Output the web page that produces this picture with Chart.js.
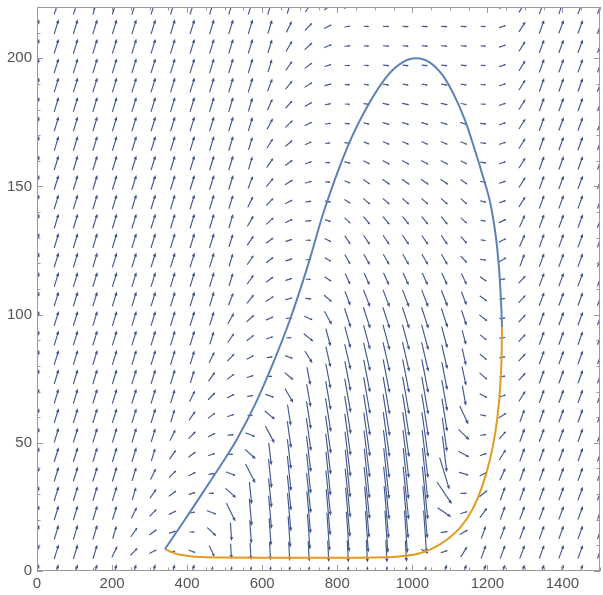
<!DOCTYPE html>
<html><head><meta charset="utf-8">
<script src="https://cdn.jsdelivr.net/npm/chart.js@4/dist/chart.umd.min.js"></script>
<style>html,body{margin:0;padding:0;background:#fff;overflow:hidden}#wrap{width:603px;height:595px;position:relative}</style>
</head><body><div id="wrap"><canvas id="c" width="603" height="595"></canvas></div>
<script>
// ---- axis ticks ----
const xTickValues = [0, 200, 400, 600, 800, 1000, 1200, 1400];
const yTickValues = [0, 50, 100, 150, 200];

// ---- vector field sample points ----
const fieldX = [0,52,103,155,207,259,310,362,414,466,517,569,621,672,724,776,828,879,931,983,1034,1086,1138,1190,1241,1293,1345,1397,1448,1500];
// rows listed from top (y = 220) down to bottom (y = 0)
const fieldY = [220,212.4,204.8,197.2,189.7,182.1,174.5,166.9,159.3,151.7,144.1,136.6,129,121.4,113.8,106.2,98.6,91,83.4,75.9,68.3,60.7,53.1,45.5,37.9,30.3,22.8,15.2,7.6,0];

// direction of each field arrow as it appears (degrees, 0 = right, 90 = up)
const fieldAngle = [
[73,73,73,73,73,73,73,73,73,73,73,73,73,73,55,37,18,0,-1,-2,-2,-2,-2,-1,19,58,70,70,70,70],
[73,73,73,73,73,73,73,73,73,73,73,73,73,64,46,27,9,-1,-2,-3,-3,-3,-3,-1,19,58,70,70,70,70],
[73,73,73,73,73,73,73,73,73,73,73,73,73,60,42,24,5,-2,-4,-5,-5,-5,-5,-2,19,58,70,70,70,70],
[73,73,73,73,73,73,73,73,73,73,73,73,73,55,37,18,0,-4,-7,-7,-7,-7,-7,-2,19,58,70,70,70,70],
[73,73,73,73,73,73,73,73,73,73,73,73,69,51,33,15,-1,-6,-10,-10,-10,-10,-10,-3,19,58,70,70,70,70],
[73,73,73,73,73,73,73,73,73,73,73,73,66,47,29,11,-3,-9,-13,-13,-13,-13,-13,-4,19,58,70,70,70,70],
[73,73,73,73,73,73,73,73,73,73,73,73,62,44,26,7,-5,-14,-17,-17,-17,-17,-17,-6,19,58,70,70,70,70],
[73,73,73,73,73,73,73,73,73,73,73,73,58,40,22,4,-9,-20,-22,-22,-22,-22,-22,-7,19,58,70,70,70,70],
[73,73,73,73,73,73,73,73,73,73,73,73,55,37,18,0,-14,-28,-28,-28,-28,-28,-28,-9,19,58,70,70,70,70],
[73,73,73,73,73,73,73,73,73,73,73,69,51,33,15,-4,-21,-35,-35,-35,-35,-35,-35,-12,19,58,70,70,70,70],
[73,73,73,73,73,73,73,73,73,73,73,64,46,27,9,-10,-32,-42,-42,-42,-42,-42,-42,-14,19,58,70,70,70,70],
[73,73,73,73,73,73,73,73,73,73,73,60,42,24,5,-18,-43,-50,-50,-50,-50,-50,-43,-10,27,66,70,70,70,70],
[73,73,73,73,73,73,73,73,73,73,73,55,37,18,0,-28,-56,-56,-56,-56,-56,-56,-49,-11,27,66,70,70,70,70],
[73,73,73,73,73,73,73,73,73,73,73,55,37,18,0,-30,-60,-60,-60,-60,-60,-60,-48,-8,31,70,70,70,70,70],
[73,73,73,73,73,73,73,73,73,73,73,55,37,18,0,-33,-65,-65,-65,-65,-65,-65,-65,-35,8,47,70,70,70,70],
[73,73,73,73,73,73,73,73,73,73,69,51,33,15,-7,-41,-69,-69,-69,-69,-69,-69,-69,-37,8,47,70,70,70,70],
[73,73,73,73,73,73,73,73,73,73,60,42,24,5,-25,-61,-72,-72,-72,-72,-72,-72,-72,-38,8,47,70,70,70,70],
[73,73,73,73,73,73,73,73,73,73,55,37,18,0,-38,-75,-75,-75,-75,-75,-75,-75,-75,-40,8,47,70,70,70,70],
[73,73,73,73,73,73,73,73,73,64,46,27,9,-19,-58,-77,-77,-77,-77,-77,-77,-77,-77,-41,8,47,70,70,70,70],
[73,73,73,73,73,73,73,73,73,55,37,18,0,-40,-79,-79,-79,-79,-79,-79,-79,-79,-78,-42,8,47,70,70,70,70],
[73,73,73,73,73,73,73,73,64,46,27,9,-20,-60,-80,-80,-80,-80,-80,-80,-80,-80,-80,-27,19,58,70,70,70,70],
[73,73,73,73,73,73,73,73,55,37,18,0,-40,-81,-81,-81,-81,-81,-81,-81,-81,-81,-65,-11,31,70,70,70,70,70],
[73,73,73,73,73,73,73,64,46,27,9,-21,-62,-82,-82,-82,-82,-82,-82,-82,-82,-82,-44,8,47,70,70,70,70,70],
[73,73,73,73,73,73,73,55,37,18,0,-42,-83,-83,-83,-83,-83,-83,-83,-83,-83,-83,-28,19,58,70,70,70,70,70],
[73,73,73,73,73,73,64,46,27,9,-21,-63,-84,-84,-84,-84,-84,-84,-84,-84,-84,-73,-17,27,66,70,70,70,70,70],
[73,73,73,73,73,73,55,37,18,0,-42,-84,-84,-84,-84,-84,-84,-84,-84,-84,-84,-56,0,39,70,70,70,70,70,70],
[73,73,73,73,73,64,46,27,9,-21,-64,-85,-85,-85,-85,-85,-85,-85,-85,-85,-85,-34,16,54,70,70,70,70,70,70],
[73,73,73,73,73,55,37,18,0,-43,-86,-86,-86,-86,-86,-86,-86,-86,-86,-86,-86,10,31,70,70,70,70,70,70,70],
[73,73,73,73,64,46,27,9,-22,-65,-87,-87,-87,-87,-87,-87,-87,-87,-87,-87,-29,19,58,70,70,70,70,70,70,70],
[73,73,73,73,73,73,73,73,73,80,80,80,80,80,80,80,80,80,80,80,80,70,70,70,70,70,70,70,70,70]
];

// relative strength of each field arrow
const fieldStrength = [
[15,15,15,15,15,15,15,15,15,15,15,15,15,13,11,9,7,5,5,6,6,6,6,5,7,12,14,14,14,14],
[15,15,15,15,15,15,15,15,15,15,15,15,14,12,10,8,6,5,6,6,6,6,6,5,7,12,14,14,14,14],
[15,15,15,15,15,15,15,15,15,15,15,15,14,12,10,8,6,5,6,6,6,6,6,5,7,12,14,14,14,14],
[15,15,15,15,15,15,15,15,15,15,15,15,13,11,9,7,5,5,6,6,6,6,6,5,7,12,14,14,14,14],
[15,15,15,15,15,15,15,15,15,15,15,15,13,11,9,7,5,5,6,6,6,6,6,5,7,12,14,14,14,14],
[15,15,15,15,15,15,15,15,15,15,15,14,12,10,8,6,5,6,7,7,7,7,6,5,7,12,14,14,14,14],
[15,15,15,15,15,15,15,15,15,15,15,14,12,10,8,6,5,6,7,7,7,7,7,6,7,12,14,14,14,14],
[15,15,15,15,15,15,15,15,15,15,15,13,11,9,7,5,6,6,7,7,7,7,7,6,7,12,14,14,14,14],
[15,15,15,15,15,15,15,15,15,15,15,13,11,9,7,5,6,7,8,8,8,8,7,6,7,12,14,14,14,14],
[15,15,15,15,15,15,15,15,15,15,15,13,11,9,7,5,6,8,9,9,9,9,8,6,7,12,14,14,14,14],
[15,15,15,15,15,15,15,15,15,15,14,12,10,8,6,6,7,9,9,9,9,9,8,6,7,12,14,14,14,14],
[15,15,15,15,15,15,15,15,15,15,14,12,10,8,6,6,8,10,10,10,10,10,8,5,8,13,14,14,14,14],
[15,15,15,15,15,15,15,15,15,15,13,11,9,7,5,7,10,11,11,11,11,11,9,5,8,13,14,14,14,14],
[15,15,15,15,15,15,15,15,15,15,13,11,9,7,5,7,11,12,12,12,12,12,9,6,9,13,14,14,14,14],
[15,15,15,15,15,15,15,15,15,15,13,11,9,7,5,8,12,13,13,13,13,13,12,8,6,10,14,14,14,14],
[15,15,15,15,15,15,15,15,15,15,13,11,9,7,6,10,15,18,18,18,18,17,14,9,6,10,14,14,14,14],
[15,15,15,15,15,15,15,15,15,14,12,10,8,6,9,15,20,22,22,22,22,20,16,10,6,10,14,14,14,14],
[15,15,15,15,15,15,15,15,15,13,11,9,7,5,12,18,22,25,26,26,26,22,15,8,6,10,14,14,14,14],
[15,15,15,15,15,15,15,15,14,12,10,8,6,8,14,21,26,29,30,30,30,25,17,9,6,10,14,14,14,14],
[15,15,15,15,15,15,15,15,13,11,9,7,5,11,18,25,30,33,34,34,34,28,19,10,6,10,14,14,14,14],
[15,15,15,15,15,15,15,14,12,10,8,6,9,16,23,29,34,37,38,38,38,31,20,8,7,12,14,14,14,14],
[15,15,15,15,15,15,15,13,11,9,7,5,13,21,28,34,38,41,42,42,42,33,20,6,9,13,14,14,14,14],
[15,15,15,15,15,15,14,12,10,8,6,10,19,27,33,38,42,44,45,45,45,34,15,6,10,14,14,14,14,14],
[15,15,15,15,15,15,13,11,9,7,5,14,22,30,36,41,45,47,48,48,48,36,12,7,12,14,14,14,14,14],
[15,15,15,15,15,14,12,10,8,6,10,21,29,35,40,44,48,50,51,51,51,33,10,8,13,14,14,14,14,14],
[15,15,15,15,15,13,11,9,7,5,14,22,29,35,40,45,49,52,53,53,53,26,6,10,14,14,14,14,14,14],
[15,15,15,15,14,12,10,8,6,10,20,27,33,38,42,46,49,51,52,52,52,16,7,12,14,14,14,14,14,14],
[15,15,15,15,13,11,9,7,5,12,18,23,27,31,35,38,40,41,42,42,42,7,9,13,14,14,14,14,14,14],
[15,15,15,14,12,10,8,6,7,12,15,17,18,19,20,21,22,22,22,21,8,7,12,14,14,14,14,14,14,14],
[14,14,14,14,14,14,14,14,14,10,10,10,10,10,10,10,10,10,10,10,10,14,14,14,14,14,14,14,14,14]
];

// ---- closed curve: rising (blue) part and returning (orange) part ----
const blueX = [341,394,448,493,533,581,626,674,722,767,829,882,935,975,1010,1045,1080,1110,1140,1167,1190,1207,1222,1231,1236,1239];
const blueY = [8.6,20,32,42,51.5,65,80,98,119.3,141.5,166,181.7,193.4,198.5,200,198.5,193.5,186,176,164,153,144,131,118,106,95.1];
const orangeX = [1239,1237,1231,1221,1206,1186,1160,1128,1090,1050,1010,967,900,700,500,420,381,355,341];
const orangeY = [95.1,80,66,54,43,33,24,17,12,8.5,6.5,5.7,5.3,5.2,5.3,5.6,6.3,7.6,8.6];

const toPts = (xs, ys) => xs.map((x, i) => ({x, y: ys[i]}));

const fieldPlugin = {
  id: 'field',
  beforeDatasetsDraw(chart) {
    const {ctx, chartArea: a, scales: {x: sx, y: sy}} = chart;
    ctx.save();
    ctx.beginPath(); ctx.rect(a.left, a.top, a.right - a.left, a.bottom - a.top); ctx.clip();
    ctx.strokeStyle = 'rgb(66,88,142)';
    ctx.fillStyle = 'rgb(66,88,142)';
    ctx.lineWidth = 1.15;
    ctx.lineCap = 'round';
    for (let r = 0; r < fieldY.length; r++) {
      const cy = sy.getPixelForValue(fieldY[r]);
      for (let c = 0; c < fieldX.length; c++) {
        const cx = sx.getPixelForValue(fieldX[c]);
        const th = fieldAngle[r][c] * Math.PI / 180;
        const L = fieldStrength[r][c];
        const dx = Math.cos(th), dy = -Math.sin(th);
        const tx = cx - dx * L / 2, ty = cy - dy * L / 2;
        const hx = cx + dx * L / 2, hy = cy + dy * L / 2;
        const hl = Math.max(2.3, Math.min(4, L * 0.28));
        const hw = hl * 0.42;
        ctx.beginPath();
        ctx.moveTo(tx, ty);
        ctx.lineTo(hx - dx * hl * 0.6, hy - dy * hl * 0.6);
        ctx.stroke();
        const bx = hx - dx * hl, by = hy - dy * hl;
        ctx.beginPath();
        ctx.moveTo(hx, hy);
        ctx.lineTo(bx - dy * hw, by + dx * hw);
        ctx.lineTo(bx + dy * hw, by - dx * hw);
        ctx.closePath();
        ctx.fill();
      }
    }
    ctx.restore();
  },
  afterDatasetsDraw(chart) {
    const {ctx, chartArea: a, scales: {x: sx, y: sy}} = chart;
    ctx.save();
    ctx.strokeStyle = '#9a9a9a';
    ctx.lineWidth = 1;
    ctx.strokeRect(a.left + 0.5, a.top + 0.5, a.right - a.left - 1, a.bottom - a.top - 1);
    ctx.beginPath();
    for (let v = 0; v <= 1500; v += 50) {
      const p = Math.round(sx.getPixelForValue(v)) + 0.5;
      const len = (v % 200 === 0) ? 6 : 3.5;
      ctx.moveTo(p, a.bottom); ctx.lineTo(p, a.bottom - len);
      ctx.moveTo(p, a.top); ctx.lineTo(p, a.top + len);
    }
    for (let v = 0; v <= 220; v += 10) {
      const p = Math.round(sy.getPixelForValue(v)) + 0.5;
      const len = (v % 50 === 0) ? 6 : 3.5;
      ctx.moveTo(a.left, p); ctx.lineTo(a.left + len, p);
      ctx.moveTo(a.right, p); ctx.lineTo(a.right - len, p);
    }
    ctx.stroke();
    ctx.restore();
  }
};

const tickFont = {family: "'Liberation Sans', Arial, sans-serif", size: 15};

new Chart(document.getElementById('c'), {
  type: 'scatter',
  data: {
    datasets: [
      {data: toPts(blueX, blueY), showLine: true, borderColor: '#5e81b5', borderWidth: 2, pointRadius: 0, tension: 0.35, fill: false},
      {data: toPts(orangeX, orangeY), showLine: true, borderColor: '#e19c24', borderWidth: 2, pointRadius: 0, tension: 0.35, fill: false}
    ]
  },
  options: {
    responsive: false,
    animation: false,
    layout: {padding: {top: 7, right: 3, left: 0, bottom: 0}},
    plugins: {legend: {display: false}, tooltip: {enabled: false}},
    scales: {
      x: {
        type: 'linear', min: 0, max: 1500,
        afterBuildTicks: s => { s.ticks = xTickValues.map(v => ({value: v})); },
        afterFit: s => { s.height = 24; s.paddingLeft = 0; s.paddingRight = 0; },
        ticks: {color: '#555', font: tickFont, padding: 4, maxRotation: 0, autoSkip: false, callback: v => String(v)},
        grid: {display: false, drawTicks: false},
        border: {display: false}
      },
      y: {
        type: 'linear', min: 0, max: 220,
        afterBuildTicks: s => { s.ticks = yTickValues.map(v => ({value: v})); },
        afterFit: s => { s.width = 37; s.paddingTop = 0; s.paddingBottom = 0; },
        ticks: {color: '#555', font: tickFont, padding: 5, callback: v => String(v)},
        grid: {display: false, drawTicks: false},
        border: {display: false}
      }
    }
  },
  plugins: [fieldPlugin]
});
</script>
</body></html>
